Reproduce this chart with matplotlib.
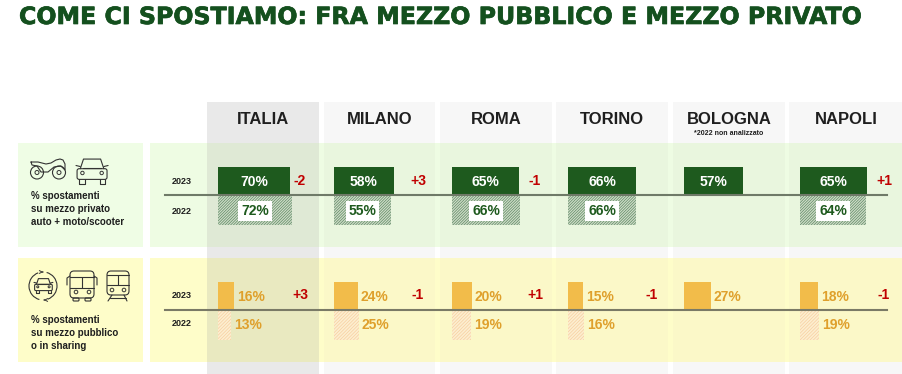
import matplotlib
matplotlib.use('Agg')
import matplotlib.pyplot as plt
import matplotlib.patheffects as pe
from matplotlib.patches import Rectangle, Circle, FancyBboxPatch, FancyArrowPatch, Arc

plt.rcParams['font.family'] = ['Liberation Sans', 'DejaVu Sans']
plt.rcParams['hatch.linewidth'] = 0.5

cities = ['ITALIA', 'MILANO', 'ROMA', 'TORINO', 'BOLOGNA', 'NAPOLI']
privato_2023 = [70, 58, 65, 66, 57, 65]
privato_2022 = [72, 55, 66, 66, None, 64]
privato_diff = ['-2', '+3', '-1', '', '', '+1']
pubblico_2023 = [16, 24, 20, 15, 27, 18]
pubblico_2022 = [13, 25, 19, 16, None, 19]
pubblico_diff = ['+3', '-1', '+1', '-1', '', '-1']

GREEN = '#1e5a1e'
ORANGE = '#f2bc4a'
ORANGE_TXT = '#dfa02c'
RED = '#c00000'
DARK = '#1f1f1f'
ICON = '#333333'

col_left = [207, 324, 440, 556, 673, 789]
col_right = [319, 435, 552, 668, 785, 903]
bar_x = [218, 334, 452, 568, 684, 800]
diff_x = [300, 418, 535, 652, 0, 884]

fig = plt.figure(figsize=(9.03, 3.74), dpi=100)
ax = fig.add_axes([0, 0, 1, 1])
ax.set_xlim(0, 903)
ax.set_ylim(374, 0)
ax.axis('off')

ax.text(19, 17, 'COME CI SPOSTIAMO: FRA MEZZO PUBBLICO E MEZZO PRIVATO', fontsize=17.05,
        family='DejaVu Sans', fontweight='bold', color='#14501e', va='center', ha='left',
        path_effects=[pe.withStroke(linewidth=0.5, foreground='#14501e')])

# fasce colorate
ax.add_patch(Rectangle((18, 143), 125, 104, color='#effde5', lw=0))
ax.add_patch(Rectangle((150, 143), 753, 104, color='#eefce3', lw=0))
ax.add_patch(Rectangle((18, 258), 125, 104, color='#fefdc9', lw=0))
ax.add_patch(Rectangle((150, 258), 753, 104, color='#fefdc9', lw=0))

# colonne: sopra, in fascia verde, in mezzo, in fascia gialla, sotto
for i in range(len(cities)):
    x, w = col_left[i], col_right[i] - col_left[i]
    grey = '#e9e9e9' if i == 0 else '#f7f7f7'
    for y, h in [(102, 41), (247, 11), (362, 12)]:
        ax.add_patch(Rectangle((x, y), w, h, color=grey, lw=0))
    ax.add_patch(Rectangle((x, 143), w, 104, color='#dfe9d5' if i == 0 else '#e9f6de', lw=0))
    ax.add_patch(Rectangle((x, 258), w, 104, color='#e9e9c0' if i == 0 else '#fbf8c8', lw=0))
    ax.text(x + w / 2, 119, cities[i], fontsize=12, fontweight='bold',
            color=DARK, ha='center', va='center')
ax.text(729, 133.5, '*2022 non analizzato', fontsize=5, fontweight='bold', color=DARK, ha='center', va='center')

# scala barre: px per punto percentuale
k_priv = 1.03
k_pub = 1.0

# barre mezzo privato
for i in range(len(cities)):
    ax.barh(181, privato_2023[i] * k_priv, height=28, left=bar_x[i], color=GREEN, lw=0, zorder=3)
    ax.text(bar_x[i] + privato_2023[i] * k_priv / 2, 182, f'{privato_2023[i]}%', color='white', fontsize=10,
            fontweight='bold', ha='center', va='center', zorder=5)
    if privato_2022[i] is not None:
        ax.barh(210, privato_2022[i] * k_priv, height=30, left=bar_x[i], facecolor='#d0dcc8',
                edgecolor='#5c8a63', hatch='/' * 12, lw=0, zorder=3)
        ax.text(bar_x[i] + privato_2022[i] * k_priv / 2, 211, f'{privato_2022[i]}%', color=GREEN, fontsize=10,
                fontweight='bold', ha='center', va='center', zorder=5,
                bbox=dict(facecolor='white', edgecolor='none', pad=2))
    if privato_diff[i]:
        ax.text(diff_x[i], 181, privato_diff[i], color=RED, fontsize=10, fontweight='bold',
                ha='center', va='center', zorder=5)

# barre mezzo pubblico
for i in range(len(cities)):
    ax.barh(296, pubblico_2023[i] * k_pub, height=28, left=bar_x[i], color=ORANGE, lw=0, zorder=3)
    ax.text(bar_x[i] + pubblico_2023[i] * k_pub + 3, 297, f'{pubblico_2023[i]}%', color=ORANGE_TXT, fontsize=10,
            fontweight='bold', ha='left', va='center', zorder=5)
    if pubblico_2022[i] is not None:
        ax.barh(325, pubblico_2022[i] * k_pub, height=30, left=bar_x[i], facecolor='#fdeed0',
                edgecolor='#f7cfa0', hatch='/' * 10, lw=0, zorder=3)
        ax.text(bar_x[i] + pubblico_2022[i] * k_pub + 3, 325, f'{pubblico_2022[i]}%', color=ORANGE_TXT, fontsize=10,
                fontweight='bold', ha='left', va='center', zorder=5)
    if pubblico_diff[i]:
        ax.text(diff_x[i], 295, pubblico_diff[i], color=RED, fontsize=10, fontweight='bold',
                ha='center', va='center', zorder=5)

# linee di base
ax.plot([165, 887], [195, 195], color='#6f7a68', lw=1.5, zorder=4)
ax.plot([165, 887], [310, 310], color='#7a7a66', lw=1.5, zorder=4)

# anni
for y, t in [(181, '2023'), (211, '2022'), (295, '2023'), (324, '2022')]:
    ax.text(182, y, t, fontsize=6.5, fontweight='bold', color=DARK, ha='center', va='center')

# testi laterali
ax.text(31, 209, '% spostamenti\nsu mezzo privato\nauto + moto/scooter', fontsize=7, fontweight='bold',
        color=DARK, ha='left', va='center', linespacing=1.35)
ax.text(31, 333, '% spostamenti\nsu mezzo pubblico\no in sharing', fontsize=7, fontweight='bold',
        color=DARK, ha='left', va='center', linespacing=1.35)


def rect(x, y, w, h, r=2):
    ax.add_patch(FancyBboxPatch((x + r, y + r), w - 2 * r, h - 2 * r, boxstyle=f'round,pad={r}',
                                fc='none', ec=ICON, lw=0.8))


def line(xs, ys):
    ax.plot(xs, ys, color=ICON, lw=0.8, solid_capstyle='round')


def car(x, y, s=1.0):
    line([x + 4*s, x + 7*s, x + 23*s, x + 26*s], [y + 10*s, y + 1*s, y + 1*s, y + 10*s])
    line([x + 7*s, x + 23*s], [y + 9*s, y + 9*s])
    rect(x + 1*s, y + 10*s, 28*s, 10*s, 2*s)
    line([x + 3*s, x + 3*s], [y + 20*s, y + 24*s])
    line([x + 27*s, x + 27*s], [y + 20*s, y + 24*s])
    line([x + 3*s, x + 8*s, x + 8*s], [y + 24*s, y + 24*s, y + 20*s])
    line([x + 27*s, x + 22*s, x + 22*s], [y + 24*s, y + 24*s, y + 20*s])
    line([x + 0*s, x + 4*s], [y + 7*s, y + 8*s])
    line([x + 30*s, x + 26*s], [y + 7*s, y + 8*s])
    ax.add_patch(Circle((x + 6*s, y + 14*s), 1.6*s, fc='none', ec=ICON, lw=0.7))
    ax.add_patch(Circle((x + 24*s, y + 14*s), 1.6*s, fc='none', ec=ICON, lw=0.7))


# moto
for cx in (37, 59):
    ax.add_patch(Circle((cx, 172.5), 6.5, fc='none', ec=ICON, lw=0.8))
    ax.add_patch(Circle((cx, 172.5), 2, fc='none', ec=ICON, lw=0.7))
line([31, 38, 46, 51, 56, 60, 63, 65, 65, 61, 54, 48, 41, 37, 32, 31],
     [162, 162, 164, 163, 160, 159, 160, 164, 170, 166, 167, 172, 172, 166, 165, 162])
# auto
car(76, 158, 1.07)

# cerchio sharing
ax.add_patch(Arc((43, 286), 28, 28, theta1=285, theta2=70, ec=ICON, lw=0.8))
ax.add_patch(Arc((43, 286), 28, 28, theta1=105, theta2=250, ec=ICON, lw=0.8))
ax.add_patch(FancyArrowPatch((40, 272), (46, 272), arrowstyle='->', mutation_scale=5, lw=0.7, color=ICON))
ax.add_patch(FancyArrowPatch((47, 300), (41, 300), arrowstyle='->', mutation_scale=5, lw=0.7, color=ICON))
car(34, 278, 0.63)

# bus
rect(70, 271, 24, 27, 4)
line([70, 94], [277, 277])
line([82, 82], [277, 288])
line([70, 94], [288, 288])
line([67, 67, 70], [285, 278, 276])
line([97, 97, 94], [285, 278, 276])
ax.add_patch(Circle((76, 292), 1.8, fc='none', ec=ICON, lw=0.7))
ax.add_patch(Circle((89, 292), 1.8, fc='none', ec=ICON, lw=0.7))
rect(73, 298, 6, 3, 1)
rect(85, 298, 6, 3, 1)

# treno
rect(107, 271, 22, 24, 4)
line([107, 129], [275, 275])
line([107, 129], [285, 285])
line([118, 118], [275, 285])
ax.add_patch(Circle((112, 290), 1.8, fc='none', ec=ICON, lw=0.7))
ax.add_patch(Circle((124, 290), 1.8, fc='none', ec=ICON, lw=0.7))
line([112, 108], [295, 301])
line([124, 127], [295, 301])
line([110, 126], [298, 298])

fig.savefig('out.png', dpi=100)
